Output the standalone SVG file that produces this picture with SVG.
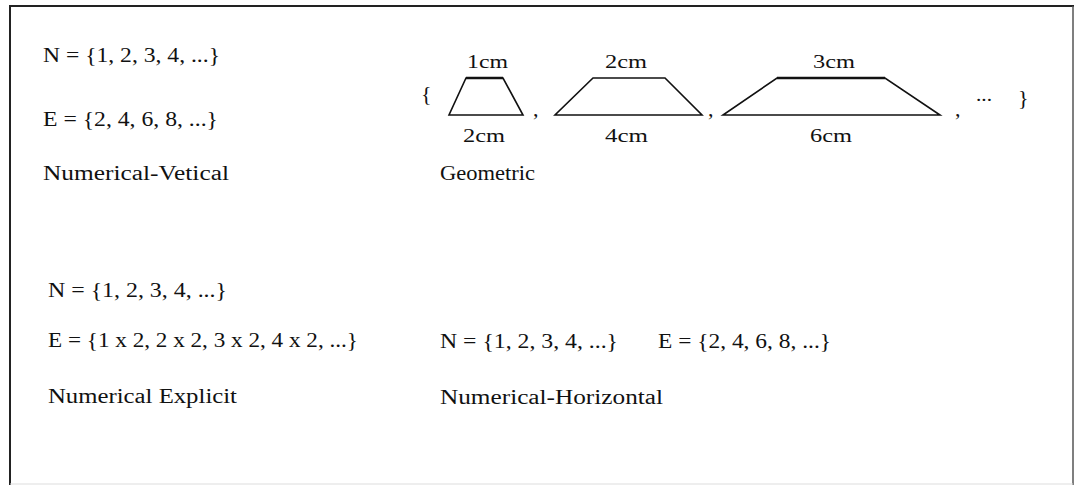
<svg xmlns="http://www.w3.org/2000/svg" width="1078" height="485" viewBox="0 0 1078 485">
<style>
  .t { font-family: "Liberation Serif", "Times New Roman", serif; font-size: 20px; fill: #111; }
  .s { font-family: "Liberation Serif", "Times New Roman", serif; font-size: 18px; fill: #111; }
  .b { font-family: "Liberation Serif", "Times New Roman", serif; font-size: 22px; fill: #111; }
  .shape { fill: none; stroke: #111; stroke-width: 1.6; stroke-linejoin: miter; }
  .top { stroke: #111; stroke-width: 2.4; }
  .frame { stroke: #222; stroke-width: 2; }
</style>
<rect width="1078" height="485" fill="#fff"/>
<g id="frame">
  <line class="frame" x1="9" y1="6" x2="1074" y2="6"/>
  <line class="frame" x1="10" y1="6" x2="10" y2="485"/>
  <line x1="1073" y1="6" x2="1073" y2="485" stroke="#555" stroke-width="1.5"/>
  <line x1="10" y1="484" x2="1073" y2="484" stroke="#ddd" stroke-width="1"/>
</g>
<g id="numerical-vertical">
  <text class="t" x="43" y="62" textLength="177" lengthAdjust="spacingAndGlyphs">N = {1, 2, 3, 4, ...}</text>
  <text class="t" x="43" y="126" textLength="175" lengthAdjust="spacingAndGlyphs">E = {2, 4, 6, 8, ...}</text>
  <text class="t" x="43" y="180" textLength="186" lengthAdjust="spacingAndGlyphs">Numerical-Vetical</text>
</g>
<g id="geometric">
  <text class="b" x="421" y="101">{</text>
  <polygon class="shape" points="466,78 503,78 523,115 449,115"/>
  <line class="top" x1="466" y1="78" x2="503" y2="78"/>
  <text class="s" x="467" y="68" textLength="41" lengthAdjust="spacingAndGlyphs">1cm</text>
  <text class="s" x="463" y="142" textLength="42" lengthAdjust="spacingAndGlyphs">2cm</text>
  <text class="b" x="533" y="116">,</text>
  <polygon class="shape" points="593,78 665,78 702,115 555,115"/>
  <text class="s" x="605" y="68" textLength="42" lengthAdjust="spacingAndGlyphs">2cm</text>
  <text class="s" x="605" y="142" textLength="43" lengthAdjust="spacingAndGlyphs">4cm</text>
  <text class="b" x="708" y="116">,</text>
  <polygon class="shape" points="777,78 885,78 940,115 723,115"/>
  <line class="top" x1="777" y1="78" x2="885" y2="78"/>
  <text class="s" x="813" y="68" textLength="42" lengthAdjust="spacingAndGlyphs">3cm</text>
  <text class="s" x="810" y="142" textLength="42" lengthAdjust="spacingAndGlyphs">6cm</text>
  <text class="b" x="955" y="116">,</text>
  <text class="s" x="976" y="101" textLength="16" lengthAdjust="spacingAndGlyphs">...</text>
  <text class="b" x="1018" y="105">}</text>
  <text class="t" x="440" y="180" textLength="95" lengthAdjust="spacingAndGlyphs">Geometric</text>
</g>
<g id="numerical-explicit">
  <text class="t" x="48" y="297" textLength="179" lengthAdjust="spacingAndGlyphs">N = {1, 2, 3, 4, ...}</text>
  <text class="t" x="48" y="347" textLength="310" lengthAdjust="spacingAndGlyphs">E = {1 x 2, 2 x 2, 3 x 2, 4 x 2, ...}</text>
  <text class="t" x="48" y="403" textLength="189" lengthAdjust="spacingAndGlyphs">Numerical Explicit</text>
</g>
<g id="numerical-horizontal">
  <text class="t" x="440" y="348" textLength="178" lengthAdjust="spacingAndGlyphs">N = {1, 2, 3, 4, ...}</text>
  <text class="t" x="658" y="348" textLength="173" lengthAdjust="spacingAndGlyphs">E = {2, 4, 6, 8, ...}</text>
  <text class="t" x="440" y="404" textLength="223" lengthAdjust="spacingAndGlyphs">Numerical-Horizontal</text>
</g>
<g id="connectors"></g>
</svg>
